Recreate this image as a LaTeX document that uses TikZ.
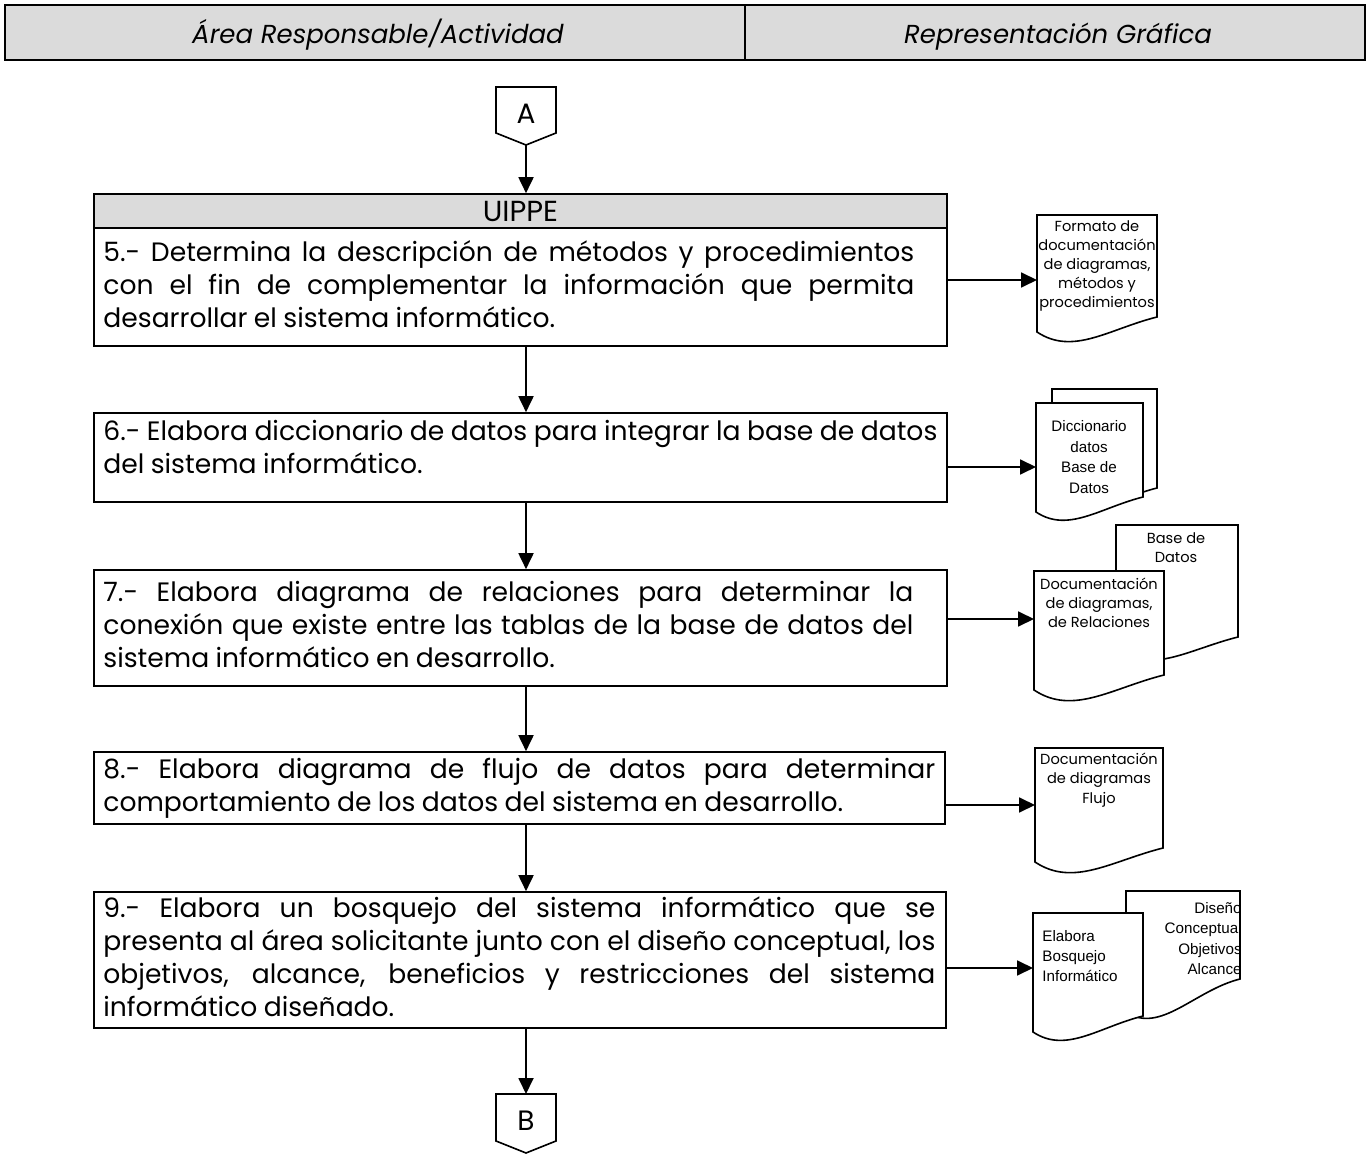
\documentclass[tikz,border=0pt]{standalone}
\usepackage{fontspec}
\setmainfont{Poppins}
\newfontfamily\tahomalike{Liberation Sans}
\usetikzlibrary{arrows.meta}

% type sizes (one picture unit = 0.5pt)
\newcommand\actfont{\fontsize{13.3}{16.5}\selectfont\tolerance=9999\hyphenpenalty=10000\exhyphenpenalty=10000\spaceskip=0.24em plus 1.5em minus 0.08em\relax}
\newcommand\hdrfont{\fontsize{13}{16}\selectfont\itshape}
\newcommand\docfontA{\fontsize{7.3}{9.6}\selectfont}
\newcommand\docfontB{\tahomalike\fontsize{7.6}{10.2}\selectfont}

% a document sheet with a wavy lower edge: left, top, right, right-bottom, left-bottom
\newcommand\docsheet[5]{%
  \filldraw[outline, fill=white] (#1,#2) -- (#3,#2) -- (#3,#4)
    .. controls ({#3-0.4*(#3-#1)},{#4+0.1*(#3-#1)}) and ({#1+0.3*(#3-#1)},{#5+0.2*(#3-#1)}) .. (#1,#5) -- cycle;}

\begin{document}
\begin{tikzpicture}[x=0.5pt,y=-0.5pt,
  outline/.style={draw=black, line width=0.8pt},
  arr/.style={draw=black, line width=0.9pt, -{Triangle[length=8pt,width=7.5pt]}},
  band/.style={outline, fill=gray!28, inner sep=0pt},
  actbox/.style={outline, fill=white, inner sep=0pt},
  acttext/.style={anchor=west, inner sep=0pt, align=justify, font=\actfont},
  docA/.style={align=center, inner sep=0pt, font=\docfontA},
  docB/.style={align=center, inner sep=0pt, font=\docfontB}]

\useasboundingbox[fill=white] (0,0) rectangle (1370,1154);

% column headings
\node[band, minimum width=370pt, minimum height=27.5pt] (hl) at (375,32.5) {};
\node[band, minimum width=310pt, minimum height=27.5pt] (hr) at (1055,32.5) {};
\node[font=\hdrfont, inner sep=0pt] (hlt) at (378,35) {Área Responsable/Actividad};
\node[font=\hdrfont, inner sep=0pt] (hrt) at (1058,37) {Representación Gráfica};

% incoming connector
\filldraw[outline, fill=white] (496,87) -- (556,87) -- (556,133) -- (526,145) -- (496,133) -- cycle;
\node[font=\fontsize{14}{16}\selectfont] (A) at (526,114) {A};
\coordinate (Atip) at (526,145);

% activity boxes
\node[band, minimum width=426.5pt, minimum height=17pt, font=\fontsize{14.5}{16}\selectfont] (uippe) at (520.5,211) {UIPPE};
\node[actbox, minimum width=426.5pt, minimum height=59pt] (b5) at (520.5,287) {};
\node[acttext, text width=405.5pt] (t5) at (103,288) {\strut 5.- Determina la descripción de métodos y procedimientos\linebreak con el fin de complementar la información que permita\linebreak desarrollar el sistema informático.\strut};

\node[actbox, minimum width=426.5pt, minimum height=44.5pt] (b6) at (520.5,457.5) {};
\node[acttext, text width=417pt] (t6) at (103,450) {\strut 6.- Elabora diccionario de datos para integrar la base de datos\linebreak del sistema informático.\strut};

\node[actbox, minimum width=426.5pt, minimum height=58pt] (b7) at (520.5,628) {};
\node[acttext, text width=405pt] (t7) at (103,627.5) {\strut 7.- Elabora diagrama de relaciones para determinar la\linebreak conexión que existe entre las tablas de la base de datos del\linebreak sistema informático en desarrollo.\strut};

\node[actbox, minimum width=425.5pt, minimum height=36pt] (b8) at (519.5,788) {};
\node[acttext, text width=416pt] (t8) at (103,788.5) {\strut 8.- Elabora diagrama de flujo de datos para determinar\linebreak comportamiento de los datos del sistema en desarrollo.\strut};

\node[actbox, minimum width=426pt, minimum height=68pt] (b9) at (520,960) {};
\node[acttext, text width=416pt] (t9) at (103,960) {\strut 9.- Elabora un bosquejo del sistema informático que se\linebreak presenta al área solicitante junto con el diseño conceptual, los\linebreak objetivos, alcance, beneficios y restricciones del sistema\linebreak informático diseñado.\strut};

% outgoing connector
\filldraw[outline, fill=white] (496,1094) -- (556,1094) -- (556,1141) -- (526,1153) -- (496,1141) -- cycle;
\node[font=\fontsize{14}{16}\selectfont] (B) at (526,1121) {B};
\coordinate (Btop) at (526,1094);

% flow
\draw[arr] (Atip) -- (uippe.north -| Atip);
\draw[arr] (b5.south -| Atip) -- (b6.north -| Atip);
\draw[arr] (b6.south -| Atip) -- (b7.north -| Atip);
\draw[arr] (b7.south -| Atip) -- (b8.north -| Atip);
\draw[arr] (b8.south -| Atip) -- (b9.north -| Atip);
\draw[arr] (b9.south -| Atip) -- (Btop);

% documents
\docsheet{1037}{215}{1157}{317}{332}
\node[docA] (d1t) at (1097,266) {Formato de\\documentación\\de diagramas,\\métodos y\\procedimientos};
\coordinate (d1) at (1037,280);

\docsheet{1052}{389}{1157}{488}{503}
\docsheet{1036}{403}{1143}{497}{512}
\node[docB] (d2t) at (1089,457) {Diccionario\\datos\\Base de\\Datos};
\coordinate (d2) at (1036,467);

\docsheet{1116}{525}{1238}{637}{650}
\node[docA] (d3b) at (1176,548) {Base de\\Datos};
\docsheet{1034}{571}{1164}{675}{690}
\node[docA] (d3t) at (1099,603) {Documentación\\de diagramas,\\de Relaciones};
\coordinate (d3) at (1034,619);

\docsheet{1035}{748}{1163}{848}{862}
\node[docA] (d4t) at (1099,780) {Documentación\\de diagramas\\Flujo};
\coordinate (d4) at (1035,805);

\docsheet{1126}{891}{1240}{979}{1012}
\begin{scope}
  \clip (1126,891) rectangle (1240,988);
  \node[docB, align=right, anchor=north east] (d5b) at (1242,902) {Diseño\\Conceptual\\Objetivos\\Alcance};
\end{scope}
\docsheet{1033}{913}{1143}{1016}{1032}
\node[docB, align=left, anchor=west] (d5t) at (1042,956) {Elabora\\Bosquejo\\Informático};
\coordinate (d5) at (1033,968);

\draw[arr] (d1 -| b5.east) -- (d1);
\draw[arr] (d2 -| b6.east) -- (d2);
\draw[arr] (d3 -| b7.east) -- (d3);
\draw[arr] (d4 -| b8.east) -- (d4);
\draw[arr] (d5 -| b9.east) -- (d5);

\end{tikzpicture}
\end{document}
